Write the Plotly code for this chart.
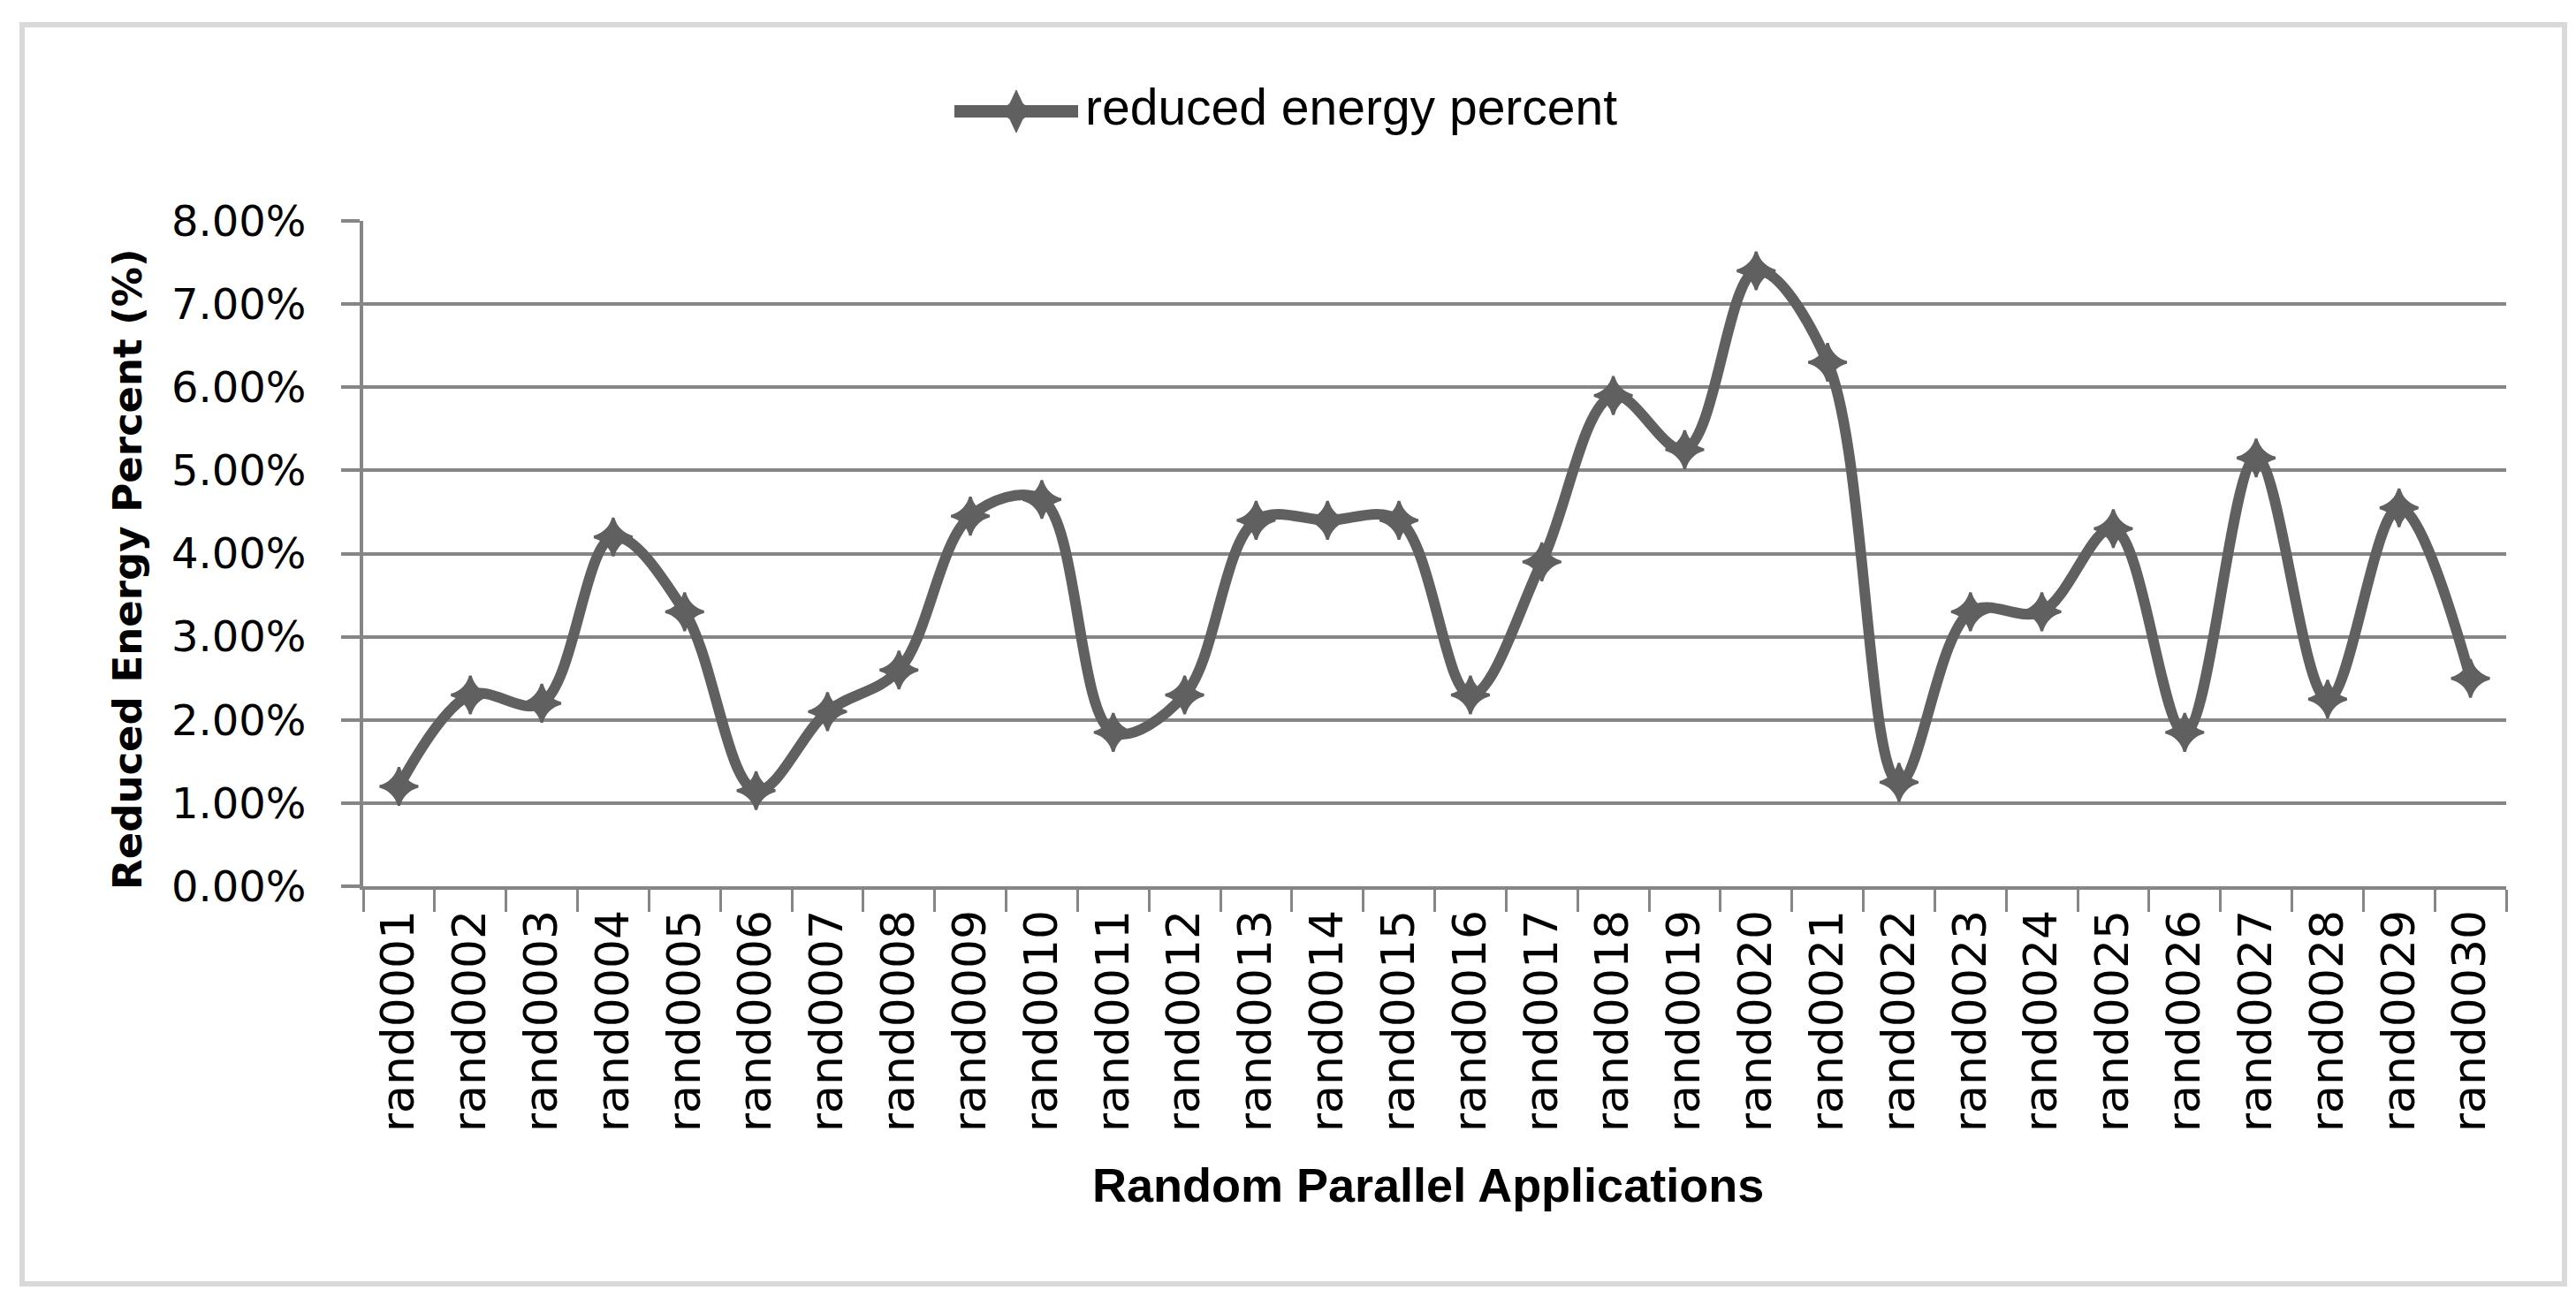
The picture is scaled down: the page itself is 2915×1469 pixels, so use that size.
import plotly.graph_objects as go

categories = ["rand%04d" % i for i in range(1, 31)]
reduced_energy_percent = [1.2, 2.3, 2.2, 4.2, 3.3, 1.15, 2.1, 2.6, 4.45, 4.65,
                          1.85, 2.3, 4.4, 4.4, 4.4, 2.3, 3.9, 5.9, 5.25, 7.4,
                          6.3, 1.25, 3.3, 3.3, 4.3, 1.85, 5.15, 2.25, 4.55, 2.5]
y_ticks = [0, 1, 2, 3, 4, 5, 6, 7, 8]
y_tick_labels = ["%.2f%%" % v for v in y_ticks]
series_name = "reduced energy percent"

W, H = 2915, 1469
L, R, T, B = 403, 2828, 242, 995  # plot area in pixels
PW, PH = R - L, B - T


def px(x):
    return (x - L) / PW


def py(y):
    return (B - y) / PH


LINE_COLOR = "#606060"
GRID_COLOR = "#868686"

fig = go.Figure()
fig.add_trace(go.Scatter(
    x=categories, y=reduced_energy_percent, name=series_name,
    mode="lines+markers",
    line=dict(color=LINE_COLOR, width=12, shape="spline", smoothing=1.0),
    marker=dict(symbol="star-diamond", size=31, color=LINE_COLOR,
                line=dict(color=LINE_COLOR, width=3)),
    showlegend=False,
))

shapes = []
# outer border
shapes.append(dict(type="rect", xref="paper", yref="paper",
                   x0=px(17), x1=px(2894), y0=py(1445), y1=py(20),
                   line=dict(color="#d9d9d9", width=6), layer="below"))
# legend line
shapes.append(dict(type="line", xref="paper", yref="paper",
                   x0=px(1072), x1=px(1212), y0=py(118), y1=py(118),
                   line=dict(color=LINE_COLOR, width=14)))
# legend marker (pixel-sized path)
shapes.append(dict(type="path", xref="paper", yref="paper",
                   xsizemode="pixel", ysizemode="pixel",
                   xanchor=px(1142), yanchor=py(118),
                   path="M-18,0 L-7,-9 L0,-24 L7,-9 L18,0 L7,9 L0,24 L-7,9 Z",
                   fillcolor=LINE_COLOR, line=dict(color=LINE_COLOR, width=1)))

annotations = [
    dict(text=series_name, xref="paper", yref="paper", x=px(1218), y=py(113),
         xanchor="left", yanchor="middle", showarrow=False,
         font=dict(family="Liberation Sans", size=57, color="#000000")),
    dict(text="Random Parallel Applications", xref="paper", yref="paper",
         x=px(1608), y=py(1333), xanchor="center", yanchor="middle",
         showarrow=False,
         font=dict(family="Liberation Sans", size=54, color="#000000", weight="bold")),
    dict(text="Reduced Energy Percent (%)", xref="paper", yref="paper",
         x=px(136), y=py(636), xanchor="center", yanchor="middle",
         textangle=-90, showarrow=False,
         font=dict(family="DejaVu Sans", size=45, color="#000000", weight="bold")),
]

fig.update_layout(
    width=W, height=H,
    margin=dict(l=L, r=W - R, t=T, b=H - B, pad=0, autoexpand=False),
    paper_bgcolor="white", plot_bgcolor="white",
    shapes=shapes, annotations=annotations,
    showlegend=False,
)
fig.update_xaxes(
    type="category", categoryorder="array", categoryarray=categories,
    range=[-0.5, len(categories) - 0.5],
    tickson="boundaries", ticks="outside", ticklen=25, tickwidth=3,
    tickcolor=GRID_COLOR, showline=True, linecolor=GRID_COLOR, linewidth=4,
    showgrid=False, tickangle=-90, ticklabelstandoff=2,
    tickfont=dict(family="DejaVu Sans", size=52, color="#000000"),
)
fig.update_yaxes(
    range=[0, 8], tickvals=y_ticks, ticktext=y_tick_labels,
    ticks="outside", ticklen=21, tickwidth=4, tickcolor=GRID_COLOR,
    showline=True, linecolor=GRID_COLOR, linewidth=4,
    showgrid=True, gridcolor=GRID_COLOR, gridwidth=4, zeroline=False,
    ticklabelstandoff=30,
    tickfont=dict(family="DejaVu Sans", size=48, color="#000000"),
)

fig.write_html("out.html")
